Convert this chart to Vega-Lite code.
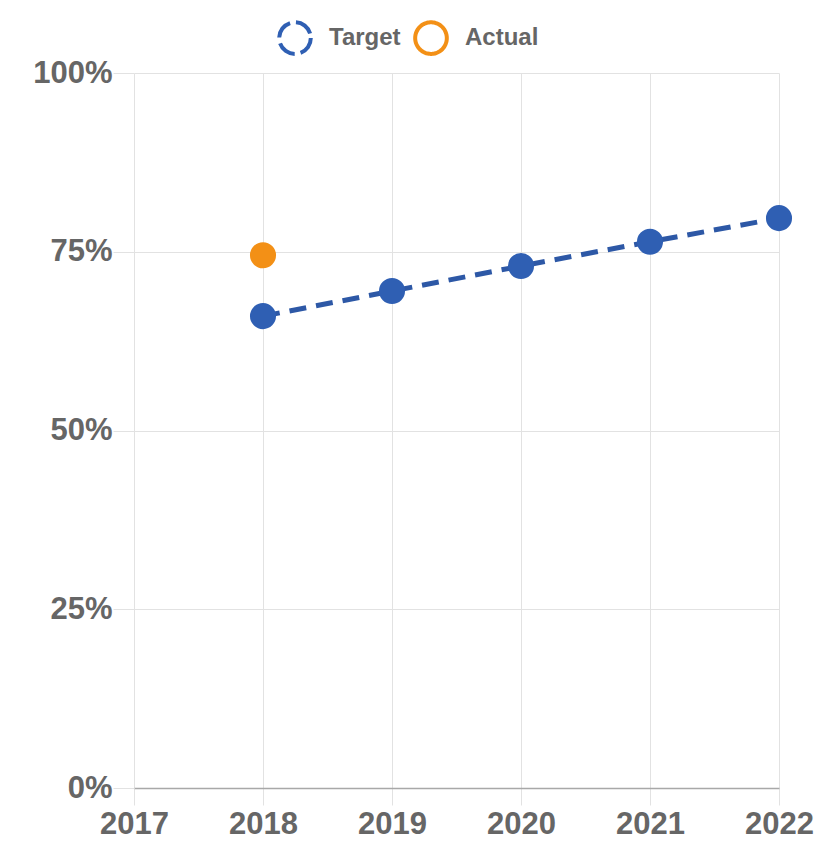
{
  "$schema": "https://vega.github.io/schema/vega-lite/v6.json",
  "width": 645,
  "height": 715,
  "autosize": {"type": "none"},
  "padding": {"left": 134, "top": 73, "right": 48, "bottom": 74},
  "background": "white",
  "data": {
    "values": [
      {"year": 2018, "series": "Target", "value": 0.66},
      {"year": 2019, "series": "Target", "value": 0.695},
      {"year": 2020, "series": "Target", "value": 0.73},
      {"year": 2021, "series": "Target", "value": 0.764},
      {"year": 2022, "series": "Target", "value": 0.797},
      {"year": 2018, "series": "Actual", "value": 0.745}
    ]
  },
  "encoding": {
    "x": {
      "field": "year", "type": "quantitative",
      "scale": {"domain": [2017, 2022], "nice": false, "zero": false},
      "axis": {
        "title": null, "values": [2017, 2018, 2019, 2020, 2021, 2022], "format": "d",
        "grid": true, "gridColor": "#e2e2e2", "tickColor": "#e2e2e2", "tickSize": 17,
        "domain": true, "domainColor": "#a8a8a8", "domainWidth": 1.5,
        "labelFont": "Liberation Sans", "labelFontWeight": "bold", "labelFontSize": 31,
        "labelColor": "#666666", "labelPadding": 4, "labelFlush": false, "labelOverlap": false
      }
    },
    "y": {
      "field": "value", "type": "quantitative",
      "scale": {"domain": [0, 1], "nice": false},
      "axis": {
        "title": null, "values": [0, 0.25, 0.5, 0.75, 1], "format": ".0%",
        "grid": true, "gridColor": "#e2e2e2", "tickColor": "#e2e2e2", "tickSize": 21,
        "domain": false,
        "labelFont": "Liberation Sans", "labelFontWeight": "bold", "labelFontSize": 31,
        "labelColor": "#666666", "labelPadding": 1, "labelFlush": false, "labelOverlap": false
      }
    }
  },
  "layer": [
    {
      "transform": [{"filter": "datum.series === 'Target'"}],
      "mark": {"type": "line", "color": "#2d58a6", "strokeWidth": 5, "strokeDash": [17, 10]}
    },
    {
      "mark": {"type": "point", "filled": false, "size": 250, "opacity": 1, "strokeWidth": 4, "shape": "circle"},
      "encoding": {
        "color": {
          "field": "series", "type": "nominal",
          "scale": {"domain": ["Target", "Actual"], "range": ["#2f5fb3", "#f39016"]},
          "legend": {
            "title": null, "orient": "none", "direction": "horizontal",
            "legendX": 143, "legendY": -53,
            "symbolType": "circle", "symbolSize": 1000, "symbolStrokeWidth": 4,
            "labelFont": "Liberation Sans", "labelFontWeight": "bold", "labelFontSize": 24,
            "labelColor": "#666666", "labelOffset": 16, "columnPadding": 6
          }
        },
        "strokeDash": {
          "field": "series", "type": "nominal",
          "scale": {"domain": ["Target", "Actual"], "range": [[19, 6], [1, 0]]},
          "legend": {
            "title": null, "orient": "none", "direction": "horizontal",
            "legendX": 143, "legendY": -53,
            "symbolType": "circle", "symbolSize": 1000, "symbolStrokeWidth": 4,
            "labelFont": "Liberation Sans", "labelFontWeight": "bold", "labelFontSize": 24,
            "labelColor": "#666666", "labelOffset": 16, "columnPadding": 6
          }
        }
      }
    },
    {
      "transform": [{"filter": "datum.series === 'Target'"}],
      "mark": {"type": "point", "filled": true, "size": 680, "opacity": 1, "shape": "circle", "color": "#2f5fb3"}
    },
    {
      "transform": [{"filter": "datum.series === 'Actual'"}],
      "mark": {"type": "point", "filled": true, "size": 680, "opacity": 1, "shape": "circle", "color": "#f39016"}
    }
  ],
  "config": {"view": {"stroke": null}}
}
